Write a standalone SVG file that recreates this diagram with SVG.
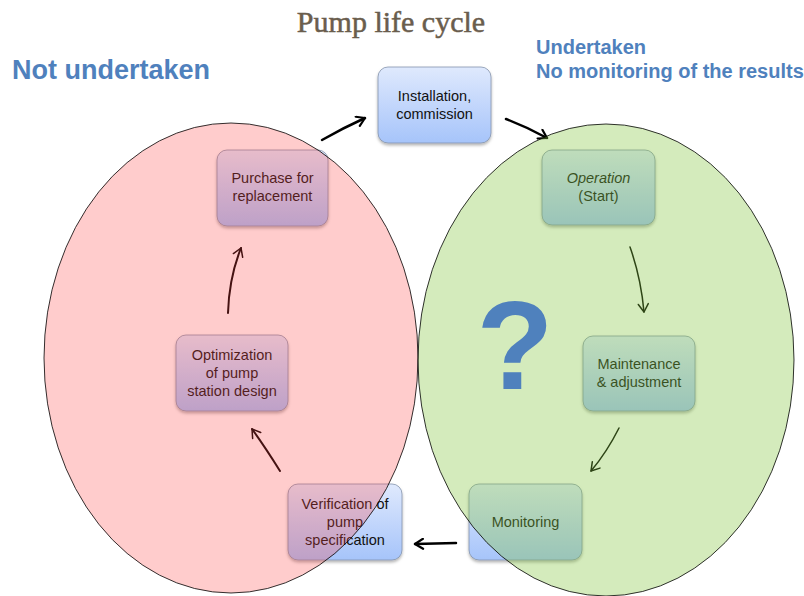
<svg xmlns="http://www.w3.org/2000/svg" width="804" height="596" viewBox="0 0 804 596">
<style>
.box{fill:url(#boxg);stroke:#7f8fa8;stroke-width:0.75;filter:url(#sh)}
.nt{font-family:"Liberation Sans",Arial,sans-serif;font-size:14.5px;fill:#111;text-anchor:middle}
.con{fill:none;stroke:#000;stroke-linecap:round}
.thick{stroke-width:2.5;marker-end:url(#ah)}
.thin{stroke-width:1.5;marker-end:url(#ah2)}
.head{font-family:"Liberation Sans",Arial,sans-serif;font-weight:bold;fill:#4f81bd}
</style>
<defs>
<linearGradient id="boxg" x1="0" y1="0" x2="0" y2="1">
<stop offset="0" stop-color="#dfe9fd"/>
<stop offset="1" stop-color="#a6c4fa"/>
</linearGradient>
<filter id="sh" x="-10%" y="-10%" width="120%" height="130%">
<feDropShadow dx="0" dy="2" stdDeviation="1.5" flood-color="#000" flood-opacity="0.3"/>
</filter>
<marker id="ah" viewBox="0 0 12 12" markerUnits="userSpaceOnUse" markerWidth="12" markerHeight="12" refX="10" refY="6" orient="auto">
<path d="M2,1 L10,6 L2,11" fill="none" stroke="#000" stroke-width="2.2" stroke-linecap="round" stroke-linejoin="round"/>
</marker>
<marker id="ah2" viewBox="0 0 12 12" markerUnits="userSpaceOnUse" markerWidth="12" markerHeight="12" refX="10" refY="6" orient="auto">
<path d="M2,1 L10,6 L2,11" fill="none" stroke="#000" stroke-width="1.5" stroke-linecap="round" stroke-linejoin="round"/>
</marker>
</defs>
<rect width="804" height="596" fill="#fff"/>

<text x="391" y="32" font-family="'Liberation Serif','Times New Roman',serif" font-size="30" fill="#6a5d4d" stroke="#6a5d4d" stroke-width="0.5" text-anchor="middle">Pump life cycle</text>

<g id="installation">
<rect class="box" x="378" y="67" width="113" height="76" rx="10"/>
<text class="nt" x="434.5" y="101">Installation,</text>
<text class="nt" x="434.5" y="119">commission</text>
</g>
<g id="operation">
<rect class="box" x="542" y="150" width="113" height="75" rx="10"/>
<text class="nt" x="598.5" y="183" font-style="italic">Operation</text>
<text class="nt" x="598.5" y="201">(Start)</text>
</g>
<g id="maintenance">
<rect class="box" x="583" y="336" width="112" height="75" rx="10"/>
<text class="nt" x="639" y="369">Maintenance</text>
<text class="nt" x="639" y="387">&amp; adjustment</text>
</g>
<g id="monitoring">
<rect class="box" x="469" y="484" width="113" height="76" rx="10"/>
<text class="nt" x="525.5" y="527">Monitoring</text>
</g>
<g id="verification">
<rect class="box" x="288" y="484" width="114" height="76" rx="10"/>
<text class="nt" x="345" y="509">Verification of</text>
<text class="nt" x="345" y="527">pump</text>
<text class="nt" x="345" y="545">specification</text>
</g>
<g id="optimization">
<rect class="box" x="176" y="335" width="112" height="76" rx="10"/>
<text class="nt" x="232" y="360">Optimization</text>
<text class="nt" x="232" y="378">of pump</text>
<text class="nt" x="232" y="396">station design</text>
</g>
<g id="purchase">
<rect class="box" x="217" y="150" width="111" height="76" rx="10"/>
<text class="nt" x="272.5" y="183">Purchase for</text>
<text class="nt" x="272.5" y="201">replacement</text>
</g>

<g id="connectors">
<path class="con thick" d="M322,140 Q343,128 365,118"/>
<path class="con thick" d="M506,119 Q527,127 547,138"/>
<path class="con thin" d="M630,247 Q641,278 644,312"/>
<path class="con thin" d="M619,428 Q607,452 591,471"/>
<path class="con thick" d="M456,543 L415,544"/>
<path class="con thin" style="stroke-width:2" d="M280,471 Q265,447 252,429"/>
<path class="con thin" style="stroke-width:2" d="M228,313 Q229,278 241,248"/>
</g>

<g id="zones">
<ellipse id="not-undertaken-zone" cx="231" cy="358" rx="187" ry="235" fill="#ff4242" fill-opacity="0.27" stroke="#000" stroke-width="0.8"/>
<ellipse id="undertaken-zone" cx="606" cy="360" rx="188" ry="236" fill="#84c640" fill-opacity="0.35" stroke="#000" stroke-width="0.8"/>
</g>

<text x="515" y="389" font-family="'Liberation Sans',Arial,sans-serif" font-weight="bold" font-size="126" fill="#4f81bd" text-anchor="middle">?</text>
<text class="head" x="12" y="79" font-size="27">Not undertaken</text>
<text class="head" x="536" y="54" font-size="20">Undertaken</text>
<text class="head" x="536" y="78" font-size="20">No monitoring of the results</text>
</svg>
